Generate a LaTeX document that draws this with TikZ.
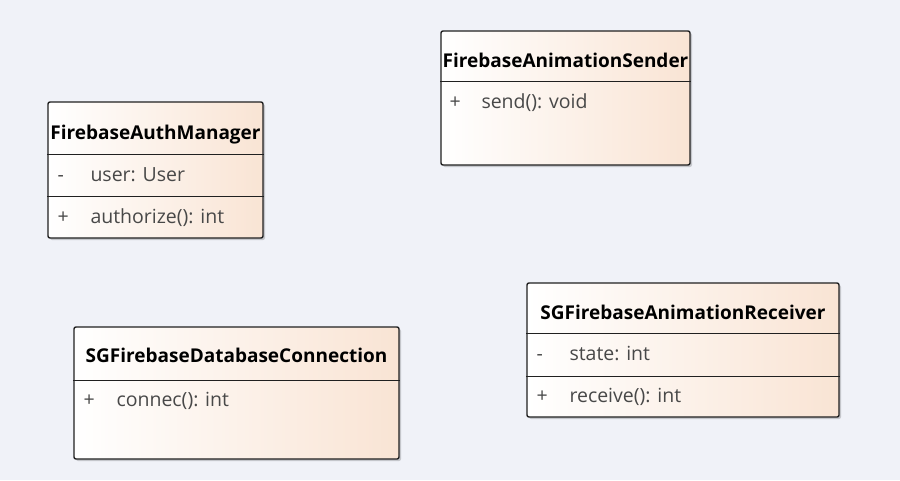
\documentclass[tikz,border=0pt]{standalone}
\usepackage{fontspec}
\setmainfont{Open Sans}
\usepackage{tikz}
\usetikzlibrary{shadows}

\definecolor{bgcol}{RGB}{240,242,248}
\definecolor{peach}{RGB}{249,228,212}
\definecolor{edgecol}{RGB}{32,32,32}
\definecolor{membcol}{RGB}{72,72,72}

\begin{document}
\begin{tikzpicture}[
		x=1pt, y=-1pt,
		umlbox/.style={rectangle, draw=edgecol, line width=1.4pt, rounded corners=2pt,
			left color=white, right color=peach,
			drop shadow={shadow xshift=2pt, shadow yshift=-2pt, fill=black, opacity=0.18}},
		classname/.style={font=\fontsize{19}{22}\selectfont\bfseries, text=black, inner sep=0pt, anchor=base},
		member/.style={font=\fontsize{19.5}{22}\selectfont, text=membcol, inner sep=0pt, anchor=base west},
		sep/.style={draw=edgecol, line width=1.4pt}]

		\path[use as bounding box, fill=bgcol] (0,0) rectangle (900,480);

		% class boxes
		\node[umlbox, minimum width=249pt, minimum height=134pt] (sender) at (565.5,98) {};
		\node[umlbox, minimum width=215pt, minimum height=136pt] (auth) at (155.5,170) {};
		\node[umlbox, minimum width=325pt, minimum height=132pt] (dbconn) at (236.5,393) {};
		\node[umlbox, minimum width=312pt, minimum height=134pt] (receiver) at (683,350) {};

		% names
		\node[classname] (senderName) at ([yshift=-37pt]sender.north) {FirebaseAnimationSender};
		\node[classname] (authName) at ([yshift=-38pt]auth.north) {FirebaseAuthManager};
		\node[classname] (dbconnName) at ([yshift=-36pt]dbconn.north) {SGFirebaseDatabaseConnection};
		\node[classname] (receiverName) at ([yshift=-37pt]receiver.north) {SGFirebaseAnimationReceiver};

		% compartments
		\draw[sep] ([yshift=-51pt]sender.north west) -- ([yshift=-51pt]sender.north east);
		\draw[sep] ([yshift=-53pt]auth.north west) -- ([yshift=-53pt]auth.north east);
		\draw[sep] ([yshift=-95pt]auth.north west) -- ([yshift=-95pt]auth.north east);
		\draw[sep] ([yshift=-54pt]dbconn.north west) -- ([yshift=-54pt]dbconn.north east);
		\draw[sep] ([yshift=-51pt]receiver.north west) -- ([yshift=-51pt]receiver.north east);
		\draw[sep] ([yshift=-94pt]receiver.north west) -- ([yshift=-94pt]receiver.north east);

		% members
		\node[member] (senderVis) at ([xshift=9pt, yshift=-78pt]sender.north west) {+};
		\node[member] (senderOp) at ([xshift=41pt, yshift=-78pt]sender.north west) {send(): void};
		\node[member] (authVisA) at ([xshift=10pt, yshift=-80pt]auth.north west) {-};
		\node[member] (authAttr) at ([xshift=43pt, yshift=-80pt]auth.north west) {user: User};
		\node[member] (authVisO) at ([xshift=10pt, yshift=-122pt]auth.north west) {+};
		\node[member] (authOp) at ([xshift=43pt, yshift=-122pt]auth.north west) {authorize(): int};
		\node[member] (dbconnVis) at ([xshift=10pt, yshift=-80pt]dbconn.north west) {+};
		\node[member] (dbconnOp) at ([xshift=43pt, yshift=-80pt]dbconn.north west) {connec(): int};
		\node[member] (receiverVisA) at ([xshift=10pt, yshift=-78pt]receiver.north west) {-};
		\node[member] (receiverAttr) at ([xshift=43pt, yshift=-78pt]receiver.north west) {state: int};
		\node[member] (receiverVisO) at ([xshift=10pt, yshift=-120pt]receiver.north west) {+};
		\node[member] (receiverOp) at ([xshift=43pt, yshift=-120pt]receiver.north west) {receive(): int};

\end{tikzpicture}
\end{document}
